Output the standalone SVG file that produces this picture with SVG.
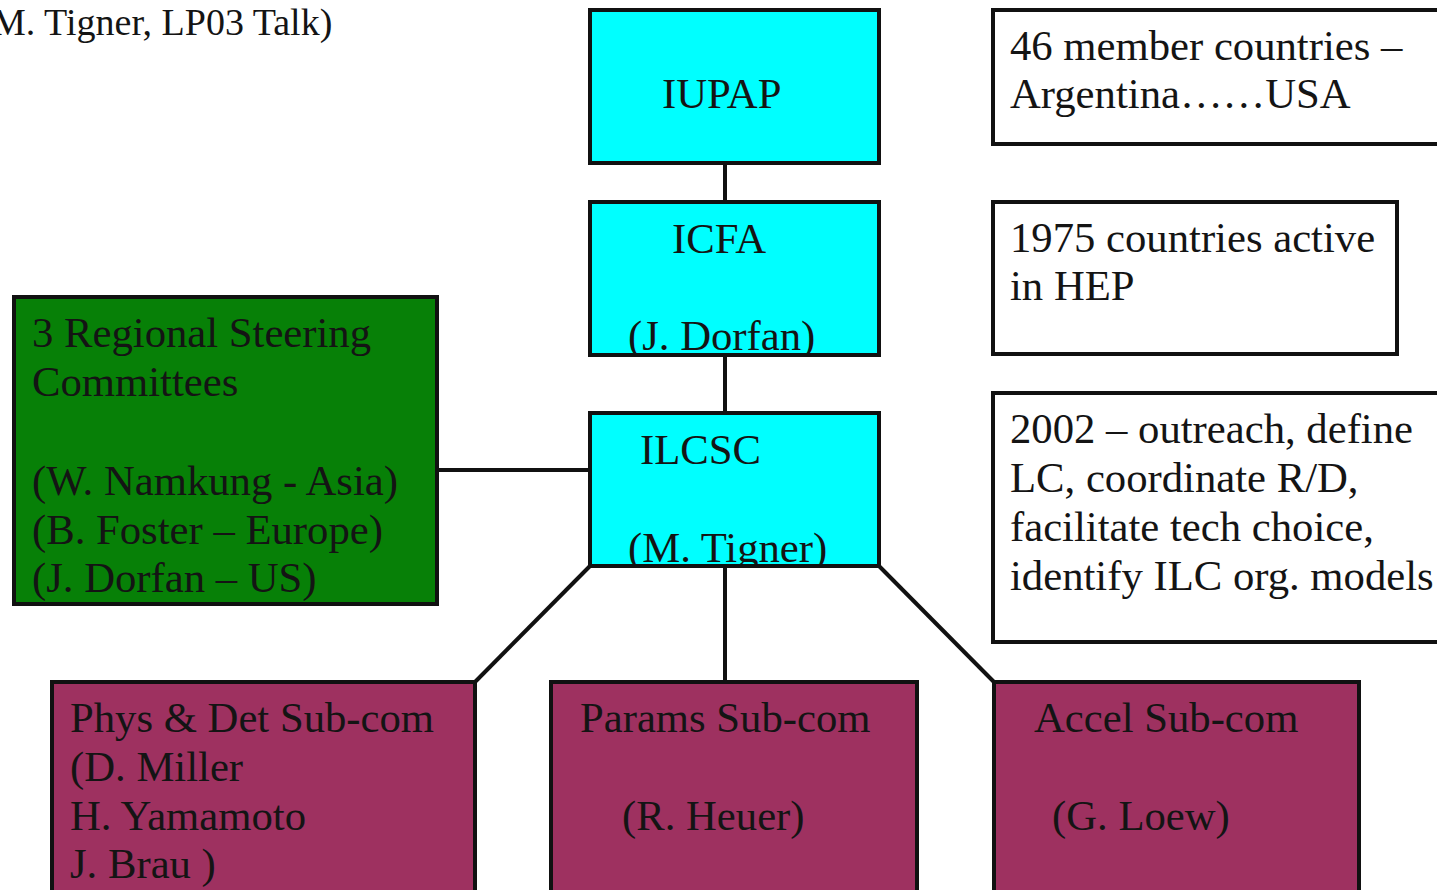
<svg xmlns="http://www.w3.org/2000/svg" width="1437" height="890" viewBox="0 0 1437 890">
<defs>
<style>
text{font-family:"Liberation Serif","Times New Roman",serif;font-size:42.7px;fill:#141414}
.box{stroke:#111;stroke-width:4}
.cyan{fill:#0ff}
.green{fill:#078007}
.mag{fill:#9e3160}
.note{fill:#fff}
.conn line{stroke:#111;stroke-width:4}
</style>
<clipPath id="cIcfa"><rect x="590" y="202" width="289" height="153"/></clipPath>
<clipPath id="cIlcsc"><rect x="590" y="413" width="289" height="153"/></clipPath>
</defs>
<rect width="1437" height="890" fill="#fff"/>
<text x="-8" y="35" style="font-size:38px">M. Tigner, LP03 Talk)</text>
<g id="connectors" class="conn">
<line x1="725" y1="163" x2="725" y2="202"/>
<line x1="725" y1="355" x2="725" y2="413"/>
<line x1="437" y1="470" x2="590" y2="470"/>
<line x1="590" y1="566" x2="475" y2="682"/>
<line x1="725" y1="566" x2="725" y2="682"/>
<line x1="879" y1="566" x2="994" y2="682"/>
</g>
<g id="iupap">
<rect class="box cyan" x="590" y="10" width="289" height="153"/>
<text x="662" y="108">IUPAP</text>
</g>
<g id="icfa">
<rect class="cyan" x="590" y="202" width="289" height="153"/>
<g clip-path="url(#cIcfa)">
<text x="672" y="253">ICFA</text>
<text x="628" y="350">(J. Dorfan)</text>
</g>
<rect class="box" fill="none" x="590" y="202" width="289" height="153"/>
</g>
<g id="ilcsc">
<rect class="cyan" x="590" y="413" width="289" height="153"/>
<g clip-path="url(#cIlcsc)">
<text x="640" y="464">ILCSC</text>
<text x="628" y="562">(M. Tigner)</text>
</g>
<rect class="box" fill="none" x="590" y="413" width="289" height="153"/>
</g>
<g id="regional">
<rect class="box green" x="14" y="297" width="423" height="307"/>
<text x="32" y="347">3 Regional Steering</text>
<text x="32" y="396">Committees</text>
<text x="32" y="495">(W. Namkung - Asia)</text>
<text x="32" y="544">(B. Foster – Europe)</text>
<text x="32" y="592">(J. Dorfan – US)</text>
</g>
<g id="note1">
<rect class="box note" x="993" y="10" width="450" height="134"/>
<text x="1010" y="60">46 member countries –</text>
<text x="1010" y="108">Argentina……USA</text>
</g>
<g id="note2">
<rect class="box note" x="993" y="202" width="404" height="152"/>
<text x="1010" y="252">1975 countries active</text>
<text x="1010" y="300">in HEP</text>
</g>
<g id="note3">
<rect class="box note" x="993" y="393" width="450" height="249"/>
<text x="1010" y="443">2002 – outreach, define</text>
<text x="1010" y="492">LC, coordinate R/D,</text>
<text x="1010" y="541">facilitate tech choice,</text>
<text x="1010" y="590">identify ILC org. models</text>
</g>
<g id="physdet">
<rect class="box mag" x="52" y="682" width="423" height="220"/>
<text x="70" y="732">Phys &amp; Det Sub-com</text>
<text x="70" y="781">(D. Miller</text>
<text x="70" y="830">H. Yamamoto</text>
<text x="70" y="878">J. Brau )</text>
</g>
<g id="params">
<rect class="box mag" x="551" y="682" width="366" height="220"/>
<text x="580" y="732">Params Sub-com</text>
<text x="622" y="830">(R. Heuer)</text>
</g>
<g id="accel">
<rect class="box mag" x="994" y="682" width="365" height="220"/>
<text x="1034" y="732">Accel Sub-com</text>
<text x="1052" y="830">(G. Loew)</text>
</g>
</svg>
